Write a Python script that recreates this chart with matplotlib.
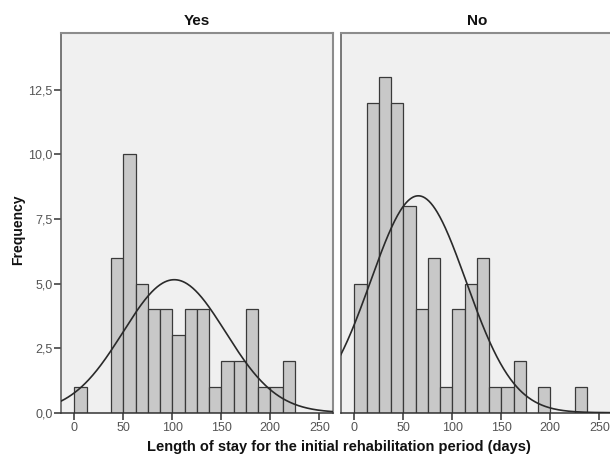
import numpy as np
import matplotlib.pyplot as plt

plt.rcParams['font.family'] = ['Liberation Sans', 'DejaVu Sans']

# histogram bins: width 12.5 days, starting at 0
bin_width = 12.5
bin_starts = np.arange(0, 250, bin_width)

# counts (one per bin, 0..237.5)
yes_counts = [1, 0, 0, 6, 10, 5, 4, 4, 3, 4, 4, 1, 2, 2, 4, 1, 1, 2, 0, 0]
no_counts  = [5, 12, 13, 12, 8, 4, 6, 1, 4, 5, 6, 1, 1, 2, 0, 1, 0, 0, 1, 0]

# normal curve parameters (mean, sd)
yes_mean, yes_sd = 102.0, 52.3
no_mean, no_sd = 65.3, 48.7

panels = ["Yes", "No"]
x_ticks = [0, 50, 100, 150, 200, 250]
y_ticks = [0, 2.5, 5.0, 7.5, 10.0, 12.5]
y_tick_labels = ["0,0", "2,5", "5,0", "7,5", "10,0", "12,5"]

fig = plt.figure(figsize=(6.10, 4.59), dpi=100)
ax1 = fig.add_axes([61 / 610, 1 - 412.7 / 459, 272 / 610, 379.7 / 459])
ax2 = fig.add_axes([341 / 610, 1 - 412.7 / 459, 272 / 610, 379.7 / 459])

data = [(yes_counts, yes_mean, yes_sd), (no_counts, no_mean, no_sd)]
xs = np.linspace(-14, 265, 400)

for ax, name, (counts, mu, sd) in zip([ax1, ax2], panels, data):
    ax.set_facecolor("#f0f0f0")
    counts = np.array(counts)
    keep = counts > 0
    ax.bar(bin_starts[keep], counts[keep], width=bin_width, align="edge",
           color="#c8c8c8", edgecolor="#3a3a3a", linewidth=0.9, zorder=2)
    n = counts.sum()
    curve = n * bin_width / (sd * np.sqrt(2 * np.pi)) * np.exp(-0.5 * ((xs - mu) / sd) ** 2)
    ax.plot(xs, curve, color="#2a2a2a", linewidth=1.2, zorder=3)

    ax.set_xlim(-13.6, 264)
    ax.set_ylim(0, 14.7)
    ax.set_xticks(x_ticks)
    ax.set_xticklabels([str(t) for t in x_ticks])
    ax.tick_params(axis="x", direction="out", length=5, width=1.1, color="#333333",
                   labelsize=9, labelcolor="#555555", pad=2)
    ax.set_title(name, fontsize=11, fontweight="bold", pad=6, color="#111111")

    for side in ["top", "right"]:
        ax.spines[side].set_color("#8c8c8c")
        ax.spines[side].set_linewidth(1.5)
    ax.spines["bottom"].set_color("#333333")
    ax.spines["bottom"].set_linewidth(1.1)
    ax.spines["left"].set_color("#555555")
    ax.spines["left"].set_linewidth(1.1)

ax1.set_yticks(y_ticks)
ax1.set_yticklabels(y_tick_labels)
ax1.tick_params(axis="y", direction="out", length=5, width=1.1, color="#333333",
                labelsize=9, labelcolor="#555555", pad=1)
ax2.set_yticks([])

fig.text(0.03, 0.5, "Frequency", rotation=90, ha="center", va="center",
         fontsize=10, fontweight="bold", color="#111111")
fig.text(339 / 610, 1 - 447 / 459, "Length of stay for the initial rehabilitation period (days)",
         ha="center", va="center", fontsize=10.5, fontweight="bold", color="#111111")

fig.savefig("out.png", dpi=100)
